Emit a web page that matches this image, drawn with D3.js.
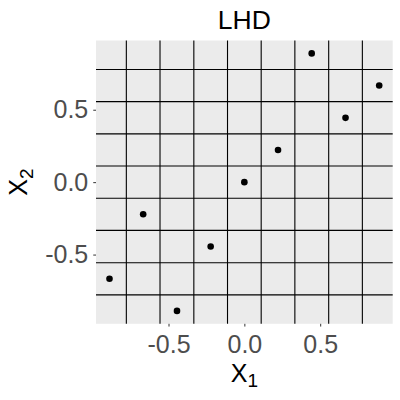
<!DOCTYPE html>
<html lang="en">
<head>
    <meta charset="UTF-8">
    <title>LHD</title>
    <script src="https://d3js.org/d3.v7.min.js"></script>
    <style>
        body {
            margin: 0;
            background-color: #ffffff;
            font-family: "Liberation Sans", Arial, sans-serif;
        }
        .tick text {
            fill: #4d4d4d;
            font-size: 25px;
            font-family: "Liberation Sans", Arial, sans-serif;
        }
        .tick line {
            stroke: #333333;
            stroke-width: 1px;
        }
        .axis-title {
            font-size: 25px;
            fill: #000000;
        }
    </style>
</head>
<body>
    <svg id="chart" width="400" height="400"></svg>

    <script>
        // design points (9-run Latin hypercube)
        const x1 = [-0.889, -0.667, -0.444, -0.222, 0, 0.222, 0.444, 0.667, 0.889];
        const x2 = [-0.667, -0.222, -0.889, -0.444, 0, 0.222, 0.889, 0.444, 0.667];
        // cell boundaries
        const gridBreaks = [-0.778, -0.556, -0.333, -0.111, 0.111, 0.333, 0.556, 0.778];
        const tickValues = [-0.5, 0, 0.5];
        const domain = [-0.978, 0.978];

        const panel = { left: 96, right: 392.7, top: 40.5, bottom: 323.8 };

        const svg = d3.select("#chart");

        const x = d3.scaleLinear().domain(domain).range([panel.left, panel.right]);
        const y = d3.scaleLinear().domain(domain).range([panel.bottom, panel.top]);

        svg.append("rect")
            .attr("x", panel.left)
            .attr("y", panel.top)
            .attr("width", panel.right - panel.left)
            .attr("height", panel.bottom - panel.top)
            .attr("fill", "#ebebeb");

        svg.append("g")
            .selectAll("line")
            .data(gridBreaks)
            .enter().append("line")
            .attr("x1", d => x(d))
            .attr("x2", d => x(d))
            .attr("y1", panel.top)
            .attr("y2", panel.bottom)
            .attr("stroke", "#000")
            .attr("stroke-width", 1.1);

        svg.append("g")
            .selectAll("line")
            .data(gridBreaks)
            .enter().append("line")
            .attr("y1", d => y(d))
            .attr("y2", d => y(d))
            .attr("x1", panel.left)
            .attr("x2", panel.right)
            .attr("stroke", "#000")
            .attr("stroke-width", 1.1);

        svg.append("g")
            .selectAll("circle")
            .data(x1)
            .enter().append("circle")
            .attr("cx", d => x(d))
            .attr("cy", (d, i) => y(x2[i]))
            .attr("r", 3.3)
            .attr("fill", "#000");

        // plain hyphen for negatives, like R does
        const fmt = d => d.toFixed(1);

        const xAxis = svg.append("g")
            .attr("transform", `translate(0, ${panel.bottom})`)
            .call(d3.axisBottom(x).tickValues(tickValues).tickFormat(fmt).tickSize(2.75).tickPadding(8.4));
        xAxis.select(".domain").remove();

        const yAxis = svg.append("g")
            .attr("transform", `translate(${panel.left}, 0)`)
            .call(d3.axisLeft(y).tickValues(tickValues).tickFormat(fmt).tickSize(2.75).tickPadding(5));
        yAxis.select(".domain").remove();

        // title
        svg.append("text")
            .attr("x", (panel.left + panel.right) / 2)
            .attr("y", 29)
            .attr("text-anchor", "middle")
            .attr("font-size", 26.5)
            .attr("fill", "#000")
            .text("LHD");

        // x axis title
        const xt = svg.append("text")
            .attr("class", "axis-title")
            .attr("x", (panel.left + panel.right) / 2)
            .attr("y", 381.7)
            .attr("text-anchor", "middle");
        xt.append("tspan").text("X");
        xt.append("tspan").attr("dy", 5.7).attr("font-size", 19).text("1");

        // y axis title
        const yt = svg.append("text")
            .attr("class", "axis-title")
            .attr("transform", `translate(27, ${(panel.top + panel.bottom) / 2}) rotate(-90)`)
            .attr("text-anchor", "middle");
        yt.append("tspan").text("X");
        yt.append("tspan").attr("dy", 5.7).attr("font-size", 19).text("2");
    </script>
</body>
</html>
